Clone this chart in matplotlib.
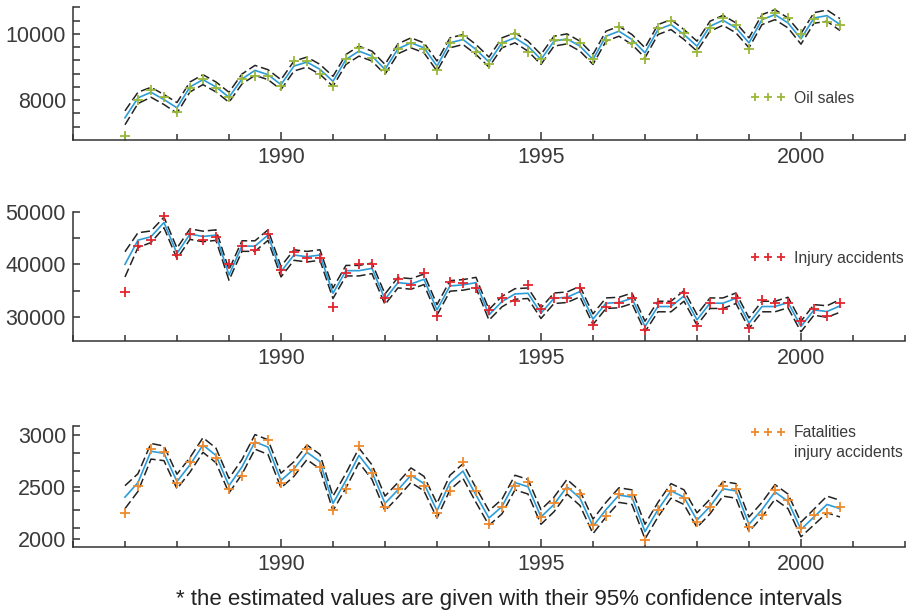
import numpy as np
import matplotlib
matplotlib.use("Agg")
import matplotlib.pyplot as plt

plt.rcParams['font.family'] = ['Liberation Sans', 'DejaVu Sans']

# quarterly observations 1987 Q1 .. 2000 Q4
years = list(range(1987, 2001))
t = np.array([y + q / 4 for y in years for q in range(4)])

oil_obs = [6920, 8000, 8300, 8090, 7640, 8370, 8650, 8370, 8090, 8650, 8720, 8720,
           8440, 9180, 9180, 8800, 8420, 9230, 9580, 9280, 8900, 9530, 9730, 9550,
           8900, 9730, 9930, 9450, 9080, 9730, 10000, 9450, 9250, 9830, 9830, 9710,
           9250, 9830, 10200, 9730, 9250, 10180, 10380, 10030, 9450, 10180, 10480, 10280,
           9530, 10480, 10630, 10480, 10000, 10450, 10360, 10280]
oil_fit = [7470, 8070, 8240, 8020, 7770, 8400, 8620, 8400, 8090, 8640, 8900, 8770,
           8470, 9030, 9150, 8930, 8570, 9230, 9480, 9330, 8930, 9550, 9730, 9580,
           9030, 9730, 9830, 9530, 9150, 9730, 9880, 9630, 9230, 9780, 9850, 9630,
           9230, 9930, 10080, 9830, 9430, 10130, 10280, 9980, 9630, 10230, 10410, 10180,
           9730, 10430, 10580, 10330, 9850, 10480, 10550, 10280]
oil_ci = [210, 170, 150, 150, 160, 150, 150, 150, 150, 150, 150, 150,
          150, 150, 150, 150, 150, 150, 150, 150, 150, 150, 150, 150,
          150, 150, 150, 150, 150, 150, 150, 150, 150, 150, 150, 150,
          150, 150, 150, 150, 150, 150, 150, 150, 150, 150, 150, 150,
          150, 150, 150, 150, 160, 160, 170, 180]

inj_obs = [34830, 43470, 44600, 49200, 41770, 45740, 44600, 45240, 40000, 43470, 42710, 45740,
           38930, 42400, 41260, 41140, 31990, 38300, 40060, 40060, 33690, 37160, 36090, 38300,
           30280, 36720, 36530, 35460, 31350, 33690, 33120, 36090, 31480, 33560, 33560, 35460,
           28520, 31860, 32620, 33690, 27570, 32620, 32620, 34510, 28330, 32620, 31480, 33690,
           27880, 33250, 32620, 32750, 29150, 31480, 30220, 32620]
inj_fit = [40000, 44600, 45240, 47950, 42080, 45740, 45300, 45550, 37980, 43470, 43470, 45550,
           38610, 41770, 41450, 41770, 34510, 38800, 38800, 39240, 33370, 36530, 36280, 37160,
           31350, 35900, 36100, 36530, 30410, 32930, 34380, 34510, 30720, 33560, 33750, 34830,
           29590, 32620, 32750, 33560, 28200, 31990, 31990, 34000, 29460, 32620, 32620, 33560,
           28830, 31990, 31990, 32750, 28200, 31350, 31040, 32110]
inj_ci = [2400, 1400, 1100, 1000, 1000, 1000, 1000, 1000, 1000, 1000, 1000, 1000,
          1000, 1000, 1000, 1000, 1000, 1000, 1000, 1000, 1000, 1000, 1000, 1000,
          1000, 1000, 1000, 1000, 1000, 1000, 1000, 1000, 1000, 1000, 1000, 1000,
          1000, 1000, 1000, 1000, 1000, 1000, 1000, 1000, 1000, 1000, 1000, 1000,
          1000, 1000, 1000, 1000, 1000, 1000, 1100, 1200]

fat_obs = [2250, 2510, 2860, 2830, 2540, 2740, 2890, 2780, 2480, 2600, 2920, 2950,
           2540, 2660, 2860, 2690, 2280, 2480, 2890, 2630, 2310, 2480, 2600, 2510,
           2250, 2460, 2740, 2460, 2140, 2310, 2510, 2550, 2210, 2340, 2480, 2430,
           2130, 2220, 2430, 2420, 1990, 2280, 2460, 2390, 2160, 2310, 2510, 2480,
           2110, 2230, 2470, 2370, 2100, 2230, 2250, 2310]
fat_fit = [2400, 2540, 2840, 2820, 2550, 2710, 2900, 2800, 2510, 2690, 2930, 2880,
           2560, 2670, 2830, 2740, 2340, 2560, 2800, 2640, 2340, 2470, 2610, 2530,
           2270, 2540, 2650, 2420, 2200, 2310, 2540, 2500, 2210, 2330, 2500, 2390,
           2120, 2280, 2420, 2400, 2070, 2280, 2460, 2400, 2180, 2310, 2480, 2460,
           2140, 2280, 2450, 2360, 2090, 2210, 2330, 2290]
fat_ci = [110, 85, 75, 70, 70, 70, 70, 70, 70, 70, 70, 70,
          70, 70, 70, 70, 70, 70, 70, 70, 70, 70, 70, 70,
          70, 70, 70, 70, 70, 70, 70, 70, 70, 70, 70, 70,
          70, 70, 70, 70, 70, 70, 70, 70, 70, 70, 70, 70,
          70, 70, 70, 70, 70, 75, 80, 80]

panels = [
    dict(obs=oil_obs, fit=oil_fit, ci=oil_ci, color='#9ab83a', label='Oil sales',
         ylim=(6800, 10800), yticks=[8000, 10000], yminor=np.arange(7200, 10801, 400),
         rect=[0.0801, 0.7712, 0.9133, 0.2168], leg_y=0.316),
    dict(obs=inj_obs, fit=inj_fit, ci=inj_ci, color='#e3262e', label='Injury accidents',
         ylim=(25500, 50000), yticks=[30000, 40000, 50000], yminor=[35000, 45000],
         rect=[0.0801, 0.4433, 0.9133, 0.2108], leg_y=0.639),
    dict(obs=fat_obs, fit=fat_fit, ci=fat_ci, color='#ef8a2e', label='Fatalities',
         ylim=(1925, 3085), yticks=[2000, 2500, 3000], yminor=[2100, 2275, 2455, 2650, 2825, 3085],
         rect=[0.0801, 0.1067, 0.9133, 0.1977], leg_y=0.94),
]

fig = plt.figure(figsize=(9.11, 6.12), dpi=100)
dark = '#333333'

for i, p in enumerate(panels):
    ax = fig.add_axes(p['rect'])
    fit = np.array(p['fit'])
    ci = np.array(p['ci'])
    ax.plot(t, fit + ci, color='#222222', lw=1.1, ls=(0, (6, 2.5)))
    ax.plot(t, fit - ci, color='#222222', lw=1.1, ls=(0, (6, 2.5)))
    ax.plot(t, fit, color='#2b9cd8', lw=1.2)
    ax.plot(t, p['obs'], ls='none', marker='+', ms=6.5, mew=1.3, color=p['color'], label=p['label'])

    ax.set_xlim(1986, 2002)
    ax.set_ylim(*p['ylim'])
    ax.set_xticks([1990, 1995, 2000])
    ax.set_xticks(range(1986, 2003), minor=True)
    ax.set_yticks(p['yticks'])
    ax.set_yticks(p['yminor'], minor=True)

    for s in ['top', 'right']:
        ax.spines[s].set_visible(False)
    for s in ['left', 'bottom']:
        ax.spines[s].set_color(dark)
        ax.spines[s].set_linewidth(1.1)
    ax.tick_params(which='both', direction='in', color=dark, width=1.1, labelcolor='#3a3a3a',
                   labelsize=15.5)
    ax.tick_params(axis='x', which='major', length=6, pad=5)
    ax.tick_params(axis='x', which='minor', length=4.5)
    ax.tick_params(axis='y', which='both', length=5, pad=5)

    ax.legend(loc='center left', bbox_to_anchor=(0.8137, p['leg_y']), frameon=False,
              numpoints=3, markerscale=0.8, handlelength=2.3, handletextpad=0.5, borderpad=0,
              borderaxespad=0, fontsize=11.3, labelcolor='#3a3a3a')
    if i == 2:
        ax.text(0.867, 0.775, 'injury accidents', transform=ax.transAxes,
                ha='left', va='center', fontsize=11.3, color='#3a3a3a')

fig.text(0.559, 0.021, '* the estimated values are given with their 95% confidence intervals',
         ha='center', va='center', fontsize=16, color='#222222')

fig.savefig('out.png', dpi=100)
